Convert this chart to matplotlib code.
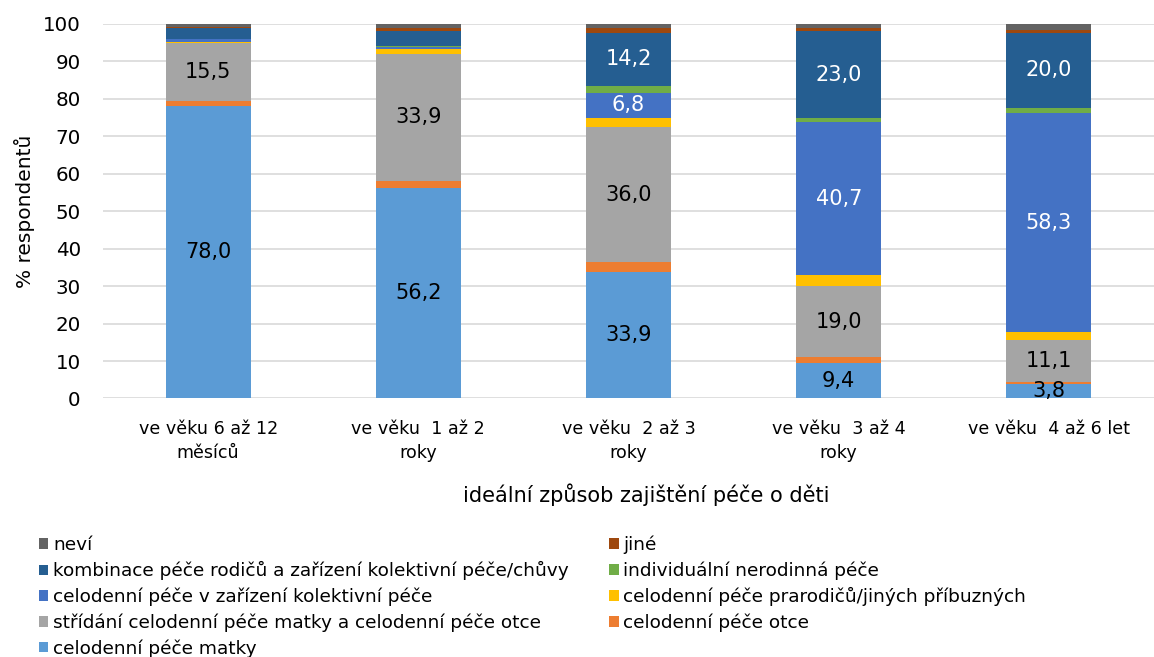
import numpy as np
import matplotlib.pyplot as plt

plt.rcParams["font.family"] = ["DejaVu Sans"]

categories = ["ve věku 6 až 12\nměsíců", "ve věku  1 až 2\nroky", "ve věku  2 až 3\nroky",
              "ve věku  3 až 4\nroky", "ve věku  4 až 6 let"]

series_names = ["celodenní péče matky", "celodenní péče otce",
                "střídání celodenní péče matky a celodenní péče otce",
                "celodenní péče prarodičů/jiných příbuzných",
                "celodenní péče v zařízení kolektivní péče",
                "individuální nerodinná péče",
                "kombinace péče rodičů a zařízení kolektivní péče/chůvy",
                "jiné", "neví"]

matky = [78.0, 56.2, 33.9, 9.4, 3.8]
otce = [1.3, 1.9, 2.5, 1.6, 0.7]
stridani = [15.5, 33.9, 36.0, 19.0, 11.1]
prarodice = [0.5, 1.4, 2.5, 3.0, 2.2]
kolektivni = [0.6, 0.5, 6.8, 40.7, 58.3]
nerodinna = [0.1, 0.2, 1.8, 1.3, 1.5]
kombinace = [2.8, 4.0, 14.2, 23.0, 20.0]
jine = [0.5, 0.8, 1.2, 0.8, 0.7]
nevi = [0.7, 1.0, 1.1, 1.2, 1.6]

values = [matky, otce, stridani, prarodice, kolektivni, nerodinna, kombinace, jine, nevi]
colors = ["#5B9BD5", "#ED7D31", "#A5A5A5", "#FFC000", "#4472C4",
          "#70AD47", "#255E91", "#9E480E", "#636363"]
# which series get value labels, and label colour
labelled = {0: "black", 2: "black", 4: "white", 6: "white"}
min_label = {0: 3, 2: 10, 4: 5, 6: 10}

fig = plt.figure(figsize=(11.54, 6.57), dpi=100)
ax = fig.add_axes([0.0893, 0.3935, 0.9107, 0.57])

x = np.arange(len(categories))
bottom = np.zeros(len(categories))
bars = []
for i, (vals, col) in enumerate(zip(values, colors)):
    b = ax.bar(x, vals, 0.405, bottom=bottom, color=col, label=series_names[i], zorder=3)
    bars.append(b)
    if i in labelled:
        for xi, v, bt in zip(x, vals, bottom):
            if v >= min_label[i]:
                ax.text(xi, bt + v / 2, f"{v:.1f}".replace(".", ","), ha="center", va="center",
                        fontsize=15, color=labelled[i], zorder=4)
    bottom += np.array(vals)

ax.set_xlim(-0.5, len(categories) - 0.5)
ax.set_ylim(0, 100)
ax.set_yticks(range(0, 101, 10))
ax.grid(axis="y", color="#D9D9D9", linewidth=1.2, zorder=0)
for s in ax.spines.values():
    s.set_visible(False)
ax.tick_params(axis="both", length=0, labelsize=14.3, colors="black")
ax.tick_params(axis="y", pad=16)
ax.set_xticks(x)
ax.set_xticklabels(categories, fontsize=12.6, linespacing=1.4)
ax.tick_params(axis="x", pad=15.5)
ax.set_ylabel("% respondentů", fontsize=14.5, labelpad=6)
ax.set_xlabel("ideální způsob zajištění péče o děti", fontsize=15, labelpad=16)
ax.xaxis.label.set_x(0.517)

order = [8, 6, 4, 2, 0, 7, 5, 3, 1]
leg = fig.legend([bars[i] for i in order], [series_names[i] for i in order], ncol=2,
                 loc="upper left", bbox_to_anchor=(0.0195, 0.210), frameon=False, fontsize=13.3,
                 handlelength=0.5, handleheight=0.5, handletextpad=0.25,
                 columnspacing=2.2, labelspacing=0.39)

fig.savefig("out.png", dpi=100)
